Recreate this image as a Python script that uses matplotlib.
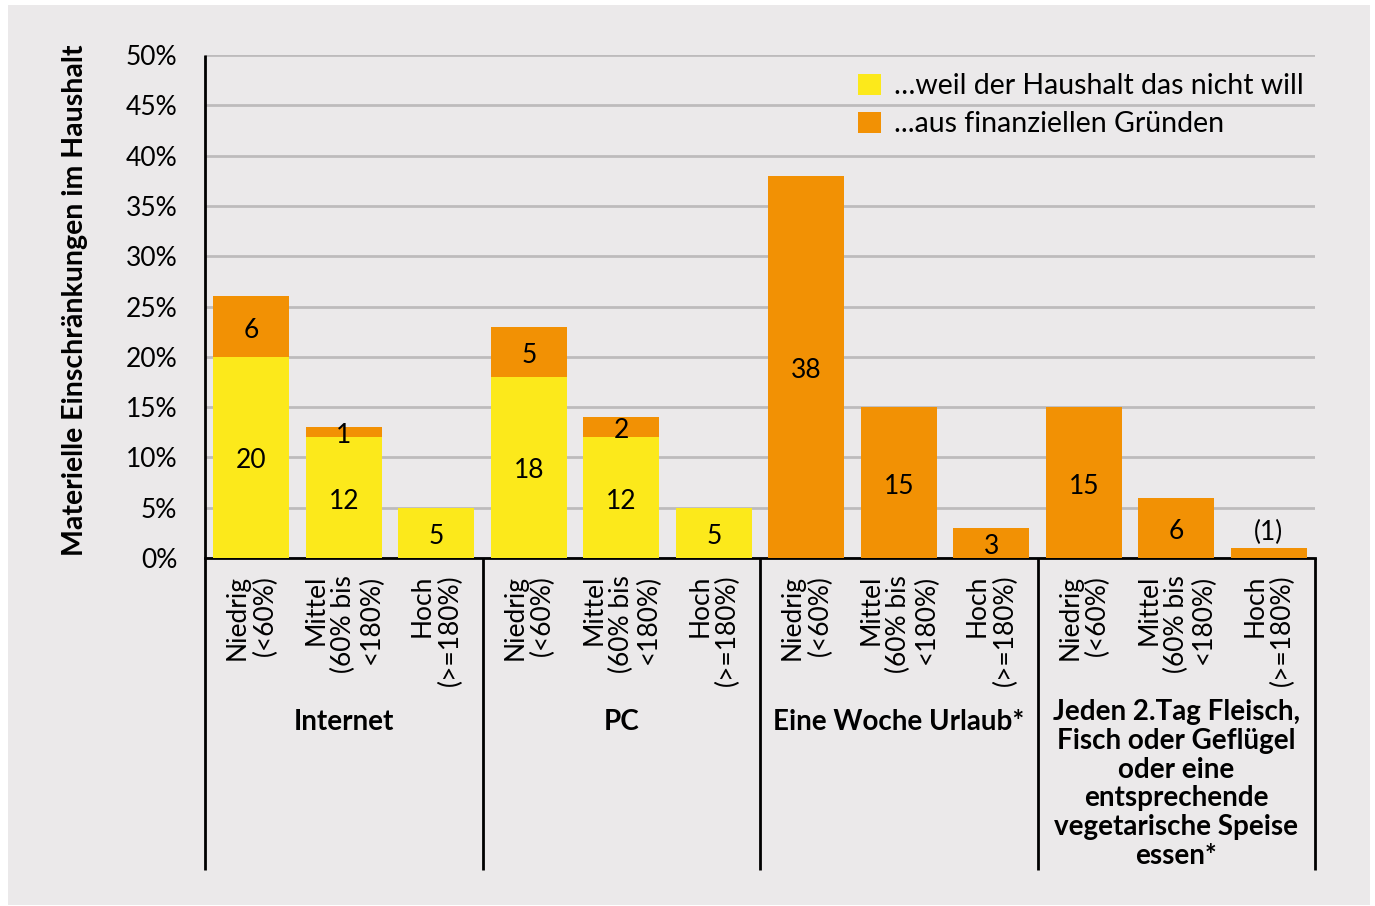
import matplotlib
matplotlib.use("Agg")
import matplotlib.pyplot as plt
from matplotlib.patches import Rectangle
import numpy as np

plt.rcParams['font.family'] = ['Lato', 'DejaVu Sans']

# ---- data ----
groups = ["Internet", "PC", "Eine Woche Urlaub*",
          "Jeden 2.Tag Fleisch,\nFisch oder Geflügel\noder eine\nentsprechende\nvegetarische Speise\nessen*"]
sub_labels = ["Niedrig\n(<60%)", "Mittel\n(60% bis\n<180%)", "Hoch\n(>=180%)"]
wont = [20, 12, 5, 18, 12, 5, 0, 0, 0, 0, 0, 0]
financial = [6, 1, 0, 5, 2, 0, 38, 15, 3, 15, 6, 1]
wont_labels = ["20", "12", "5", "18", "12", "5", "", "", "", "", "", ""]
fin_labels = ["6", "1", "", "5", "2", "", "38", "15", "3", "15", "6", "(1)"]
yticks = [0, 5, 10, 15, 20, 25, 30, 35, 40, 45, 50]
legend_labels = ["…weil der Haushalt das nicht will", "...aus finanziellen Gründen"]
ylabel = "Materielle Einschränkungen im Haushalt"

YELLOW = "#FCE91B"
ORANGE = "#F29104"
BG = "#EBE9EA"
GRID = "#BDBBBC"

W, H = 1375, 906
fig = plt.figure(figsize=(W / 100, H / 100), dpi=100, facecolor="white")
fig.patches.append(Rectangle((8 / W, 1 - 905 / H), (1370 - 8) / W, (905 - 5) / H,
                             transform=fig.transFigure, facecolor=BG, edgecolor="none", zorder=-10))

ax = fig.add_axes([205 / W, 1 - 558 / H, (1315 - 205) / W, (558 - 55) / H])
ax.set_facecolor("none")

x = np.arange(len(wont))
bw = 0.82
ax.bar(x, wont, width=bw, color=YELLOW, zorder=3, label=legend_labels[0])
ax.bar(x, financial, width=bw, bottom=wont, color=ORANGE, zorder=3, label=legend_labels[1])

fs = 19
dy = -0.35
for i in x:
    if wont_labels[i]:
        ax.text(i, wont[i] / 2 + dy, wont_labels[i], ha="center", va="center", fontsize=fs, zorder=5)
    if fin_labels[i]:
        if fin_labels[i].startswith("("):
            ax.text(i, wont[i] + financial[i] + 0.3, fin_labels[i], ha="center", va="bottom",
                    fontsize=fs, zorder=5)
        else:
            ax.text(i, wont[i] + financial[i] / 2 + dy, fin_labels[i], ha="center", va="center",
                    fontsize=fs, zorder=5)

ax.set_xlim(-0.5, len(wont) - 0.5)
ax.set_ylim(0, 50)
ax.set_yticks(yticks)
ax.set_yticklabels([f"{v}%" for v in yticks], fontsize=fs)
ax.yaxis.grid(True, color=GRID, linewidth=2, zorder=0)
ax.set_axisbelow(True)
ax.tick_params(axis="y", length=0, pad=20)

ax.set_xticks(x)
ax.set_xticklabels(sub_labels * len(groups), rotation=90, fontsize=fs, va="top", ha="center")
for lbl in ax.get_xticklabels():
    lbl.set_multialignment("right")
    lbl.set_linespacing(1.12)
ax.tick_params(axis="x", length=0, pad=12)

for s in ["top", "right"]:
    ax.spines[s].set_visible(False)
ax.spines["left"].set_visible(False)
ax.spines["bottom"].set_linewidth(2)
ax.spines["bottom"].set_color("black")

# group dividers extending below axis
n_per = len(sub_labels)
trans = ax.get_xaxis_transform()
bottom_ax = (558 - 870) / (558 - 55)
for g in range(len(groups) + 1):
    xb = g * n_per - 0.5
    ytop = 1.0 if g == 0 else 0.0
    ax.plot([xb, xb], [bottom_ax, ytop], transform=trans, color="black", lw=2,
            clip_on=False, zorder=4, solid_capstyle="butt")

# group labels
for g, name in enumerate(groups):
    xc = g * n_per + (n_per - 1) / 2
    if "\n" in name:
        yc = (558 - 784) / (558 - 55)
    else:
        yc = (558 - 722) / (558 - 55)
    ax.text(xc, yc, name, transform=trans, ha="center", va="center", fontsize=20,
            fontweight="bold", linespacing=1.13, clip_on=False)

fig.text(75 / W, 1 - 300 / H, ylabel, rotation=90, ha="center", va="center",
         fontsize=20.5, fontweight="bold")

leg = ax.legend(loc="upper right", bbox_to_anchor=(1.0, 1 - 7 / 503), frameon=False,
                fontsize=20.5, handlelength=0.8, handleheight=0.8, handletextpad=0.45,
                labelspacing=0.42, borderaxespad=0)

fig.savefig("out.png", dpi=100, facecolor="white")
